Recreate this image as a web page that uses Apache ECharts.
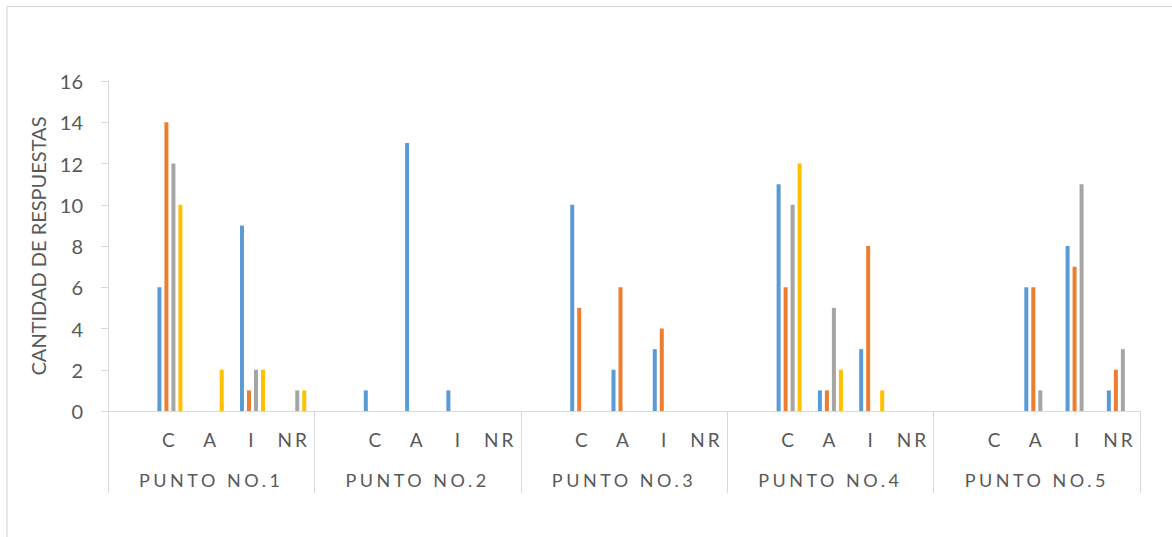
<!DOCTYPE html>
<html>
<head>
<meta charset="utf-8">
<script src="https://cdn.jsdelivr.net/npm/echarts@6/dist/echarts.min.js"></script>
<style>
  html, body { margin: 0; padding: 0; background: #ffffff; }
  #chart { width: 1172px; height: 537px; }
</style>
</head>
<body>
<div id="chart"></div>
<script>
// Sub-categories inside each survey point (the first slot is an empty spacer)
const subCategories = ['', 'C', 'A', 'I', 'NR'];
const groups = ['PUNTO NO.1', 'PUNTO NO.2', 'PUNTO NO.3', 'PUNTO NO.4', 'PUNTO NO.5'];
const yTicks = { min: 0, max: 16, interval: 2 };
const yTitle = 'CANTIDAD DE RESPUESTAS';

// Responses per series, ordered point by point: ['', C, A, I, NR]
const serie1 = [0, 6, 0, 9, 0,   0, 1, 13, 1, 0,   0, 10, 2, 3, 0,   0, 11, 1, 3, 0,   0, 0, 6, 8, 1];
const serie2 = [0, 14, 0, 1, 0,  0, 0, 0, 0, 0,    0, 5, 6, 4, 0,    0, 6, 1, 8, 0,    0, 0, 6, 7, 2];
const serie3 = [0, 12, 0, 2, 1,  0, 0, 0, 0, 0,    0, 0, 0, 0, 0,    0, 10, 5, 0, 0,   0, 0, 1, 11, 3];
const serie4 = [0, 10, 2, 2, 1,  0, 0, 0, 0, 0,    0, 0, 0, 0, 0,    0, 12, 2, 1, 0,   0, 0, 0, 0, 0];

const seriesNames = ['Serie 1', 'Serie 2', 'Serie 3', 'Serie 4'];
const seriesColors = ['#5B9BD5', '#ED7D31', '#A5A5A5', '#FFC000'];
const seriesValues = [serie1, serie2, serie3, serie4];

const FONT = 'Lato, "Open Sans", sans-serif';
const TEXT = '#595959';
const LINE = '#D9D9D9';

const xCategories = [];
groups.forEach(() => subCategories.forEach(s => xCategories.push(s)));

const chart = echarts.init(document.getElementById('chart'), null, { renderer: 'svg' });

const option = {
  animation: false,
  backgroundColor: '#ffffff',
  textStyle: { fontFamily: FONT },
  graphic: [{
    type: 'rect',
    silent: true,
    shape: { x: 7, y: 6.5, width: 1200, height: 560 },
    style: { fill: 'none', stroke: LINE, lineWidth: 1.2 }
  }],
  grid: { left: 108, right: 32, top: 81, bottom: 126, containLabel: false },
  xAxis: [
    {
      type: 'category',
      data: xCategories,
      position: 'bottom',
      axisLine: { show: true, lineStyle: { color: LINE, width: 1 } },
      axisTick: { show: false },
      axisLabel: {
        interval: 0, color: TEXT, fontFamily: FONT, fontSize: 19,
        lineHeight: 20, margin: 18
      },
      splitLine: { show: false }
    },
    {
      type: 'category',
      data: groups,
      position: 'bottom',
      axisLine: { show: false },
      axisTick: { show: true, interval: 0, length: 82, lineStyle: { color: LINE, width: 1 } },
      axisLabel: {
        interval: 0, color: TEXT, fontFamily: FONT, fontSize: 18,
        lineHeight: 20, margin: 59
      },
      splitLine: { show: false }
    }
  ],
  yAxis: {
    type: 'value',
    min: yTicks.min, max: yTicks.max, interval: yTicks.interval,
    name: yTitle,
    nameLocation: 'middle',
    nameRotate: 90,
    nameGap: 60,
    nameTextStyle: { color: TEXT, fontFamily: FONT, fontSize: 20 },
    axisLine: { show: true, lineStyle: { color: LINE, width: 1 } },
    axisTick: { show: true, length: 7, lineStyle: { color: LINE, width: 1 } },
    axisLabel: { color: TEXT, fontFamily: FONT, fontSize: 20, margin: 25 },
    splitLine: { show: false }
  },
  series: seriesValues.map((vals, i) => ({
    name: seriesNames[i],
    type: 'bar',
    xAxisIndex: 0,
    data: vals,
    barWidth: 4,
    barGap: '75%',
    itemStyle: { color: seriesColors[i] }
  }))
};

chart.setOption(option);

// Spaced-out lettering for the category and group labels
function spaceLabels() {
  const texts = document.querySelectorAll('#chart text');
  texts.forEach(t => {
    const s = t.textContent;
    if (groups.includes(s)) t.setAttribute('letter-spacing', '3.5');
    else if (s && subCategories.includes(s)) t.setAttribute('letter-spacing', '3');
  });
}
spaceLabels();
chart.on('finished', spaceLabels);
</script>
</body>
</html>
